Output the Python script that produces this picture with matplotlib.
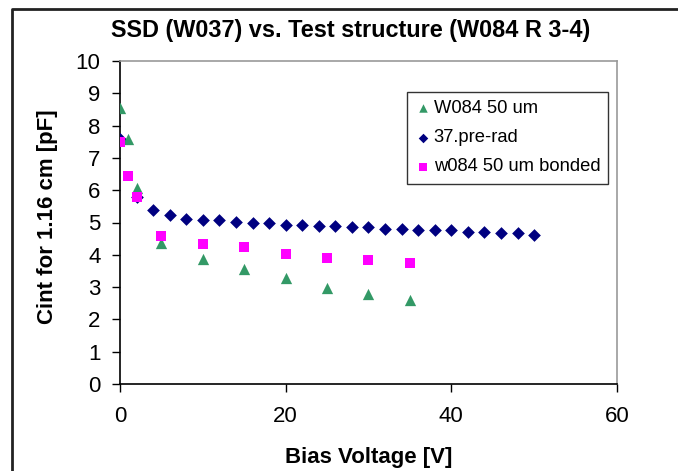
import matplotlib
matplotlib.use("Agg")
import matplotlib.pyplot as plt
from matplotlib.lines import Line2D

plt.rcParams["font.family"] = ["Liberation Sans", "DejaVu Sans"]

# W084 50 um (triangles)
tri_x = [0, 1, 2, 5, 10, 15, 20, 25, 30, 35]
tri_y = [8.55, 7.58, 6.08, 4.37, 3.87, 3.55, 3.27, 2.96, 2.78, 2.60]

# 37.pre-rad (diamonds)
dia_x = list(range(0, 51, 2))
dia_y = [7.58, 5.80, 5.39, 5.22, 5.12, 5.07, 5.07, 5.03, 4.98, 4.98,
         4.93, 4.92, 4.90, 4.89, 4.85, 4.85, 4.80, 4.80, 4.77, 4.77,
         4.77, 4.72, 4.72, 4.67, 4.67, 4.61]

# w084 50 um bonded (squares)
sq_x = [0, 1, 2, 5, 10, 15, 20, 25, 30, 35]
sq_y = [7.48, 6.43, 5.80, 4.59, 4.32, 4.23, 4.01, 3.91, 3.83, 3.74]

W, H = 678, 471
fig = plt.figure(figsize=(W / 100, H / 100), dpi=100)
ax = fig.add_axes([120 / W, 1 - 384 / H, 497 / W, 323 / H])

# outer chart border (left and top only visible)
fig.add_artist(Line2D([12 / W, 12 / W, 1.0], [0.0, 1 - 9 / H, 1 - 9 / H],
                      transform=fig.transFigure, color="#222222", lw=2))

ax.scatter(dia_x, dia_y, marker="D", s=42, color="#000080", zorder=3,
           label="37.pre-rad", linewidths=0)
ax.scatter(tri_x, tri_y, marker="^", s=66, color="#339966", zorder=4,
           label="W084 50 um", linewidths=0)
ax.scatter(sq_x, sq_y, marker="s", s=52, color="#FF00FF", zorder=5,
           label="w084 50 um bonded", linewidths=0)

ax.set_xlim(0, 60)
ax.set_ylim(0, 10)
ax.set_xticks([0, 20, 40, 60])
ax.set_yticks(range(0, 11))
ax.tick_params(axis="both", labelsize=16, direction="out", length=6, width=1)
ax.tick_params(axis="y", pad=8)
ax.tick_params(axis="x", pad=10)

for side in ("top", "right"):
    ax.spines[side].set_color("#999999")
    ax.spines[side].set_linewidth(1.2)
for side in ("left", "bottom"):
    ax.spines[side].set_color("black")
    ax.spines[side].set_linewidth(1.2)

fig.text(351 / W, 1 - 30 / H, "SSD (W037) vs. Test structure (W084 R 3-4)",
         fontsize=16.9, fontweight="bold", ha="center", va="center")
ax.set_xlabel("Bias Voltage [V]", fontsize=16, fontweight="bold", labelpad=14)
fig.text(47 / W, 1 - 217 / H, "Cint for 1.16 cm [pF]", rotation=90,
         fontsize=16, fontweight="bold", ha="center", va="center")

handles, labels = ax.get_legend_handles_labels()
order = [1, 0, 2]
leg = ax.legend([handles[i] for i in order], [labels[i] for i in order],
                loc="upper left", bbox_to_anchor=((407 - 120) / 497, (384 - 92) / 323),
                fontsize=13.2, frameon=True, fancybox=False, edgecolor="black",
                handletextpad=0.1, handlelength=0.9, labelspacing=0.66,
                borderpad=0.45, markerscale=0.75, borderaxespad=0)
leg.get_frame().set_linewidth(1.0)

fig.savefig("out.png", dpi=100)
